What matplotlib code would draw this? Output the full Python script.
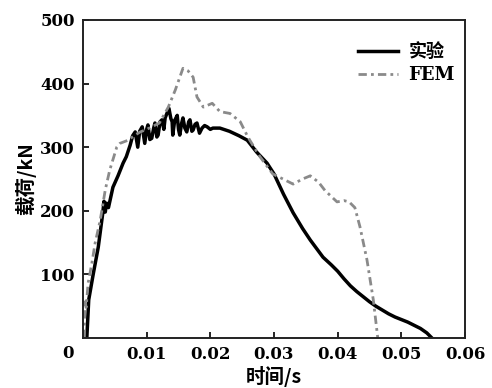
import matplotlib
matplotlib.use('Agg')
import matplotlib.pyplot as plt

# 实验曲线 (时间 s, 载荷 kN)
exp_t = [0.0006, 0.0009, 0.0016, 0.0024, 0.0031, 0.0033, 0.0035, 0.0037, 0.0040,
         0.0047, 0.0055, 0.0063, 0.0068, 0.0074, 0.0078, 0.0082, 0.0086, 0.0089,
         0.0093, 0.0097, 0.0100, 0.0102, 0.0105, 0.0108, 0.0111, 0.0113, 0.0116,
         0.0118, 0.0121, 0.0124, 0.0127, 0.0129, 0.0135, 0.0138, 0.0140, 0.0141,
         0.0144, 0.0148, 0.0150, 0.0152, 0.0155, 0.0157, 0.0160, 0.0163, 0.0166,
         0.0168, 0.0171, 0.0173, 0.0176, 0.0179, 0.0183, 0.0187, 0.0191, 0.0195,
         0.0200, 0.0204, 0.0215, 0.0230, 0.0245, 0.0258, 0.0273, 0.0289, 0.0300,
         0.0315, 0.0330, 0.0345, 0.0357, 0.0377, 0.0390, 0.0400, 0.0410, 0.0420,
         0.0430, 0.0440, 0.0450, 0.0460, 0.0470, 0.0480, 0.0490, 0.0500, 0.0510,
         0.0520, 0.0530, 0.0540, 0.0548]
exp_load = [0, 60, 100, 143, 196, 215, 198, 212, 205,
            237, 255, 275, 285, 303, 318, 324, 300, 325,
            332, 306, 328, 335, 312, 314, 330, 338, 316,
            319, 340, 343, 328, 346, 361, 345, 340, 319,
            342, 350, 328, 319, 338, 346, 330, 324, 340,
            343, 325, 327, 336, 338, 322, 330, 334, 332,
            328, 330, 330, 325, 318, 311, 292, 275, 258,
            226, 197, 172, 154, 127, 115, 105, 93, 82,
            73, 65, 57, 50, 44, 38, 33, 29, 25,
            20, 15, 8, 0]

# FEM 曲线
fem_t = [0.0002, 0.0003, 0.0005, 0.0008, 0.0014, 0.0019, 0.0027, 0.0035, 0.0042,
         0.0053, 0.0058, 0.0071, 0.0080, 0.0090, 0.0100, 0.0110, 0.0120, 0.0134,
         0.0145, 0.0157, 0.0165, 0.0173, 0.0179, 0.0189, 0.0203, 0.0215, 0.0231,
         0.0247, 0.0258, 0.0262, 0.0278, 0.0298, 0.0310, 0.0330, 0.0345, 0.0357,
         0.0370, 0.0380, 0.0399, 0.0410, 0.0418, 0.0427, 0.0435, 0.0446, 0.0456,
         0.0463]
fem_load = [0, 60, 48, 86, 118, 149, 185, 233, 264,
            300, 306, 311, 318, 324, 328, 333, 338, 363,
            390, 424, 420, 410, 379, 363, 369, 356, 353,
            340, 318, 311, 285, 258, 252, 242, 250, 255,
            245, 232, 214, 216, 214, 205, 175, 123, 60,
            0]

x_ticks = [0.01, 0.02, 0.03, 0.04, 0.05, 0.06]
x_labels = ['0.01', '0.02', '0.03', '0.04', '0.05', '0.06']
y_ticks = [100, 200, 300, 400, 500]

num_font = {'family': 'DejaVu Serif', 'weight': 'bold', 'size': 12}
mix_family = ['DejaVu Serif', 'Noto Sans CJK SC']
cjk_family = ['Noto Sans CJK SC', 'DejaVu Serif']

fig = plt.figure(figsize=(4.92, 3.88), dpi=100)
ax = fig.add_axes([0.1687, 0.1289, 0.7764, 0.8196])

ax.plot(exp_t, exp_load, color='black', linewidth=2.5, label='实验')
ax.plot(fem_t, fem_load, color='#8a8a8a', linewidth=2.0,
        linestyle=(0, (3, 1.5, 1, 1.5)), label='FEM')

ax.set_xlim(0, 0.06)
ax.set_ylim(0, 500)
ax.set_xticks(x_ticks)
ax.set_xticklabels(x_labels, fontdict=num_font)
ax.set_yticks(y_ticks)
ax.set_yticklabels([str(v) for v in y_ticks], fontdict=num_font)
ax.tick_params(direction='in', length=4, width=1.2, pad=6)
for s in ax.spines.values():
    s.set_linewidth(1.4)
    s.set_color('#222222')

# 原点 0
ax.text(-0.039, -0.05, '0', transform=ax.transAxes, ha='center', va='center',
        fontdict=num_font)

ax.set_xlabel('时间/s', family=cjk_family, weight='bold', fontsize=14, labelpad=2)
ax.set_ylabel('载荷/kN', family=cjk_family, weight='bold', fontsize=14, labelpad=3)

leg = ax.legend(loc='upper left', bbox_to_anchor=(0.696, 0.955), frameon=False,
                borderpad=0, handlelength=2.2, handletextpad=0.6,
                labelspacing=0.25, prop={'family': mix_family, 'weight': 'bold', 'size': 13})

fig.savefig('out.png', dpi=100)
